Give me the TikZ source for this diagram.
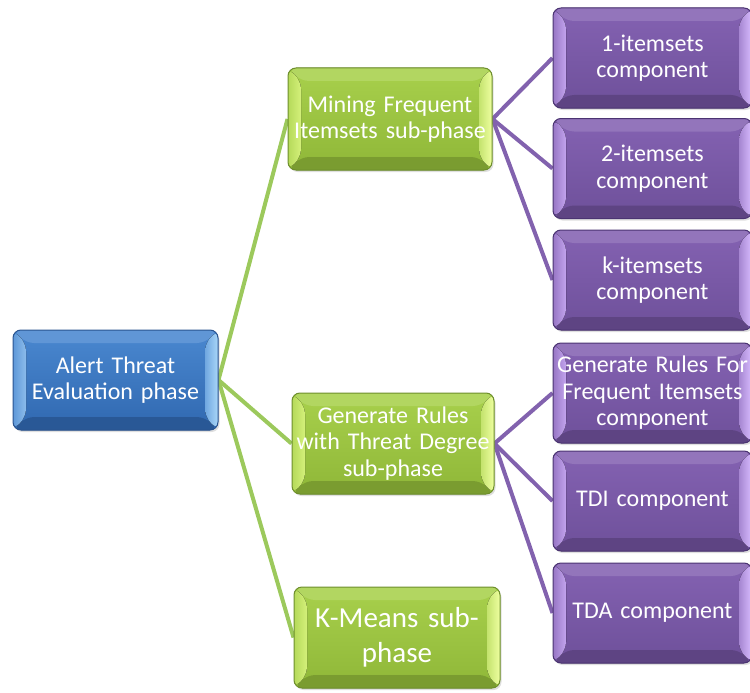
\documentclass[tikz,border=0pt]{standalone}
\usepackage{fontspec}
\setmainfont{Carlito}
\usetikzlibrary{calc,shadows,backgrounds}

% face colours, edge colours and bevel highlights
\definecolor{blueTop}{HTML}{4A88D0}
\definecolor{blueBot}{HTML}{3068B0}
\definecolor{blueEdge}{HTML}{2A5490}
\definecolor{blueHiL}{HTML}{8CBCEB}
\definecolor{blueHiR}{HTML}{A9D6F8}
\definecolor{greenTop}{HTML}{A8D04C}
\definecolor{greenBot}{HTML}{8FB738}
\definecolor{greenEdge}{HTML}{6E8F2C}
\definecolor{greenHiL}{HTML}{D4F07A}
\definecolor{greenHiR}{HTML}{EEFFA0}
\definecolor{purpTop}{HTML}{8462B2}
\definecolor{purpBot}{HTML}{6E509A}
\definecolor{purpEdge}{HTML}{4B3472}
\definecolor{purpHiL}{HTML}{C3A4EE}
\definecolor{purpHiR}{HTML}{D8BCFF}
\definecolor{greenLine}{HTML}{9CC95C}
\definecolor{purpLine}{HTML}{8262AE}

% bevelled face: #1 top, #2 bottom, #3 left highlight, #4 right highlight
\newcommand\bevelfill[4]{%
  \coordinate (bvNW) at (path picture bounding box.north west);
  \coordinate (bvNE) at (path picture bounding box.north east);
  \coordinate (bvSW) at (path picture bounding box.south west);
  \coordinate (bvSE) at (path picture bounding box.south east);
  \coordinate (bvnw) at ($(bvNW)+(13pt,-13pt)$);
  \coordinate (bvne) at ($(bvNE)+(-13pt,-13pt)$);
  \coordinate (bvsw) at ($(bvSW)+(13pt,13pt)$);
  \coordinate (bvse) at ($(bvSE)+(-13pt,13pt)$);
  \fill[top color=#1, bottom color=#2] (bvSW) rectangle (bvNE);
  \fill[#1!88!white] (bvNW) -- (bvNE) -- (bvne) -- (bvnw) -- cycle;
  \fill[#2!85!black] (bvSW) -- (bvSE) -- (bvse) -- (bvsw) -- cycle;
  \fill[left color=#1!70!#3, right color=#3] (bvSW) -- (bvNW) -- (bvnw) -- (bvsw) -- cycle;
  \fill[left color=#1!60!#4, right color=#4] (bvSE) -- (bvNE) -- (bvne) -- (bvse) -- cycle;
}

% box text: Carlito with a tight, fixed word space
\newcommand\boxfont[2]{\fontsize{#1}{#2}\selectfont\spaceskip=0.2em\relax}

\tikzset{
  box/.style={rectangle, rounded corners=8pt, minimum height=100pt,
    inner sep=0pt, align=center, text=white, line width=1pt,
    font=\boxfont{24}{26.5},
    drop shadow={opacity=0.25, shadow xshift=1.5pt, shadow yshift=-2pt}},
  phasebox/.style={box, draw=blueEdge, minimum width=205pt, text width=200pt,
    path picture={\bevelfill{blueTop}{blueBot}{blueHiL}{blueHiR}}},
  subbox/.style={box, draw=greenEdge, text width=200pt,
    path picture={\bevelfill{greenTop}{greenBot}{greenHiL}{greenHiR}}},
  compbox/.style={box, draw=purpEdge, minimum width=199pt, text width=195pt,
    path picture={\bevelfill{purpTop}{purpBot}{purpHiL}{purpHiR}}},
  greenlink/.style={draw=greenLine, line width=4pt},
  purplink/.style={draw=purpLine, line width=4pt},
}

\begin{document}
\begin{tikzpicture}[x=1pt, y=-1pt]
  \useasboundingbox (0,0) rectangle (750,693);

  % root phase
  \node[phasebox] (alert) at (115.5,380) {Alert Threat\\Evaluation phase};

  % sub-phases
  \node[subbox, minimum width=204pt, minimum height=102pt] (mining) at (390,119)
    {Mining Frequent\\Itemsets sub-phase};
  \node[subbox, minimum width=202pt, minimum height=101pt] (rules) at (393,443.5)
    {Generate Rules\\with Threat Degree\\sub-phase};
  \node[subbox, minimum width=206pt, minimum height=101pt,
        font=\boxfont{29}{35}] (kmeans) at (397,637.5)
    {K-Means sub-\\phase};

  % components
  \node[compbox] (one) at (652.5,58) {1-itemsets\\component};
  \node[compbox] (two) at (652.5,168.5) {2-itemsets\\component};
  \node[compbox] (kset) at (652.5,280) {k-itemsets\\component};
  \node[compbox] (genr) at (652.5,393) {Generate Rules For\\Frequent Itemsets\\component};
  \node[compbox] (tdi) at (652.5,501) {TDI component};
  \node[compbox] (tda) at (652.5,613) {TDA component};

  % connectors behind the boxes
  \begin{scope}[on background layer]
    \draw[greenlink] (alert.east) -- (mining.west);
    \draw[greenlink] (alert.east) -- (rules.west);
    \draw[greenlink] (alert.east) -- (kmeans.west);
    \draw[purplink] (mining.east) -- (one.west);
    \draw[purplink] (mining.east) -- (two.west);
    \draw[purplink] (mining.east) -- (kset.west);
    \draw[purplink] (rules.east) -- (genr.west);
    \draw[purplink] (rules.east) -- (tdi.west);
    \draw[purplink] (rules.east) -- (tda.west);
  \end{scope}
\end{tikzpicture}
\end{document}
